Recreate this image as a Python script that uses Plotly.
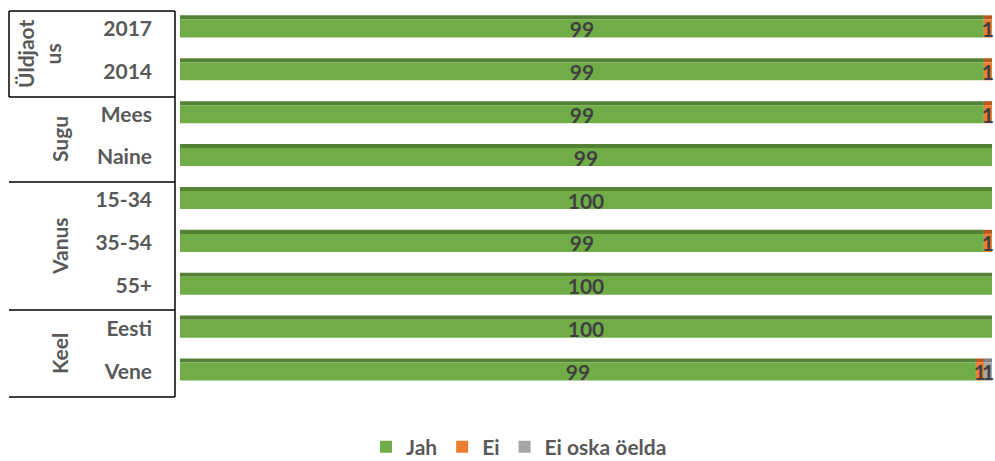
import plotly.graph_objects as go

categories = ["2017", "2014", "Mees", "Naine", "15-34", "35-54", "55+", "Eesti", "Vene"]
groups = ["Üldjaot<br>us", "Sugu", "Vanus", "Keel"]
jah = [99, 99, 99, 99, 100, 99, 100, 100, 99]
ei = [1, 1, 1, 0, 0, 1, 0, 0, 1]
ei_oska = [0, 0, 0, 0, 0, 0, 0, 0, 1]

series = [
    ("Jah", jah, "#70AD47", "#548235"),
    ("Ei", ei, "#ED7D31", "#B55A1C"),
    ("Ei oska öelda", ei_oska, "#A5A5A5", "#7F7F7F"),
]

totals = [a + b + c for a, b, c in zip(jah, ei, ei_oska)]
shares = {name: [v / t * 100 for v, t in zip(vals, totals)] for name, vals, _, _ in series}

FONT = "Lato"
FS = 21
W_FACE = 0.42
W_TOP = 0.095

fig = go.Figure()
bases = [0.0] * len(categories)
layers = []
for name, vals, col, dark in series:
    sh = shares[name]
    layers.append((name, vals, col, dark, sh, list(bases)))
    bases = [b + s for b, s in zip(bases, sh)]

# top strips (3D look)
for name, vals, col, dark, sh, base in layers:
    fig.add_trace(go.Bar(
        y=categories, x=sh, base=base, orientation="h",
        width=W_TOP, offset=-W_FACE / 2 - W_TOP,
        marker=dict(color=dark, line=dict(width=0)),
        showlegend=False, hoverinfo="skip"))

# faces
for name, vals, col, dark, sh, base in layers:
    txt = [str(v) if v > 0 else "" for v in vals]
    fig.add_trace(go.Bar(
        y=categories, x=sh, base=base, orientation="h", name=name,
        width=W_FACE, offset=-W_FACE / 2,
        marker=dict(color=col, line=dict(width=0)),
        text=txt, textposition="inside", insidetextanchor="middle",
        textangle=0, cliponaxis=False,
        insidetextfont=dict(family=FONT, size=FS, color="#404040", weight="bold"),
        customdata=vals, hovertemplate="%{y}: %{customdata}<extra>" + name + "</extra>"))

L, R, T, B = 180, 3, 7, 68
H_TOTAL, W_TOTAL = 461, 995
plot_h = H_TOTAL - T - B
plot_w = W_TOTAL - L - R

def py(px):
    return 1 - (px - T) / plot_h

def pxx(px):
    return (px - L) / plot_w

shapes = []
line = dict(color="#000000", width=1.5)
for yy in [11, 97, 182, 310, 397]:
    shapes.append(dict(type="line", xref="paper", yref="paper",
                       x0=pxx(9), x1=pxx(175), y0=py(yy), y1=py(yy), line=line))
shapes.append(dict(type="line", xref="paper", yref="paper",
                   x0=pxx(175), x1=pxx(175), y0=py(11), y1=py(397), line=line))
shapes.append(dict(type="line", xref="paper", yref="paper",
                   x0=pxx(9), x1=pxx(9), y0=py(11), y1=py(97), line=line))

ann = []
group_pos = [(39, 54), (59, 139), (59, 246), (59, 353)]
for g, (gx, gy) in zip(groups, group_pos):
    ann.append(dict(text=g, xref="paper", yref="paper", x=pxx(gx), y=py(gy),
                    showarrow=False, textangle=-90, xanchor="center", yanchor="middle",
                    font=dict(family=FONT, size=FS, color="#595959", weight="bold")))

fig.update_layout(
    width=W_TOTAL, height=H_TOTAL,
    margin=dict(l=L, r=R, t=T, b=B, autoexpand=False),
    barmode="overlay",
    plot_bgcolor="white", paper_bgcolor="white",
    font=dict(family=FONT, size=FS, color="#595959", weight="bold"),
    uniformtext=dict(mode="show", minsize=FS),
    xaxis=dict(range=[0, 100], visible=False, fixedrange=True),
    yaxis=dict(autorange="reversed", showgrid=False, zeroline=False,
               ticks="", ticklabelstandoff=27, fixedrange=True,
               tickfont=dict(family=FONT, size=FS, color="#595959", weight="bold")),
    legend=dict(orientation="h", xanchor="center", x=pxx(519), yanchor="middle",
                y=py(447), font=dict(family=FONT, size=FS, color="#595959", weight="bold"),
                traceorder="normal"),
    shapes=shapes, annotations=ann,
)

fig.write_html("out.html", config={"displayModeBar": False},
               post_script="document.body.style.margin='0';")
